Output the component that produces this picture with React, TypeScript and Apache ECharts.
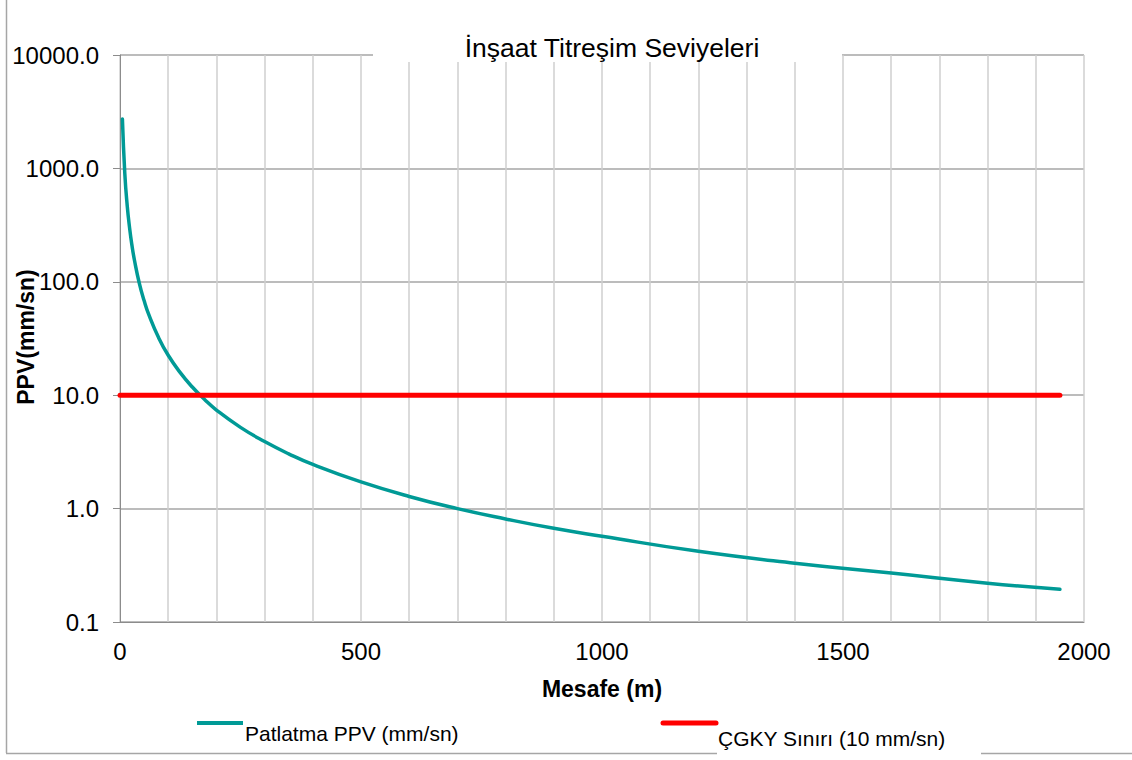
import React, { useEffect, useRef } from "react";
import * as echarts from "echarts";

const distances = [5, 10, 15, 20, 25, 30, 40, 50, 60, 80, 100, 125, 150, 175, 200, 250, 300, 350, 400, 500, 600, 700, 800, 900, 1000, 1200, 1400, 1600, 1800, 1950];
const ppvValues = [2720, 897, 468, 296, 207, 155, 97.5, 68.3, 51.0, 32.2, 22.5, 15.8, 11.8, 9.2, 7.4, 5.2, 3.9, 3.04, 2.45, 1.72, 1.28, 1.0, 0.81, 0.67, 0.57, 0.42, 0.33, 0.27, 0.22, 0.194];
const limitDistances = [0, 1950];
const limitValues = [10, 10];
const xLabelValues = [0, 500, 1000, 1500, 2000];

const titleText = "İnşaat Titreşim Seviyeleri";
const seriesNames = ["Patlatma PPV (mm/sn)", "ÇGKY Sınırı (10 mm/sn)"];
const xName = "Mesafe (m)";
const yName = "PPV(mm/sn)";

const FONT = "'Liberation Sans', Arial, sans-serif";
const TEAL = "#009a96";
const RED = "#ff0000";

export default function App() {
  const ref = useRef<HTMLDivElement>(null);
  useEffect(() => {
    if (!ref.current) return;
    const chart = echarts.init(ref.current, null, { renderer: "svg" });
    const ppvData = distances.map((d, i) => [d, ppvValues[i]]);
    const limitData = limitDistances.map((d, i) => [d, limitValues[i]]);
    chart.setOption({
      animation: false,
      backgroundColor: "#ffffff",
      textStyle: { fontFamily: FONT },
      title: {
        text: titleText,
        left: 607,
        top: 29,
        textAlign: "center",
        z: 20,
        textStyle: { fontFamily: FONT, fontSize: 26.5, fontWeight: "normal", color: "#000" },
      },
      grid: { left: 120, right: 48, top: 55, bottom: 138, containLabel: false, outerBoundsMode: "none" },
      xAxis: {
        type: "value",
        min: 0,
        max: 2000,
        interval: 100,
        name: xName,
        nameLocation: "middle",
        nameGap: 55,
        nameMoveOverlap: false,
        nameTextStyle: { fontFamily: FONT, fontSize: 23, fontWeight: "bold", color: "#000" },
        axisLine: { show: true, lineStyle: { color: "#8c8c8c", width: 1 } },
        axisTick: { show: false },
        axisLabel: {
          margin: 17,
          fontFamily: FONT,
          fontSize: 24,
          color: "#000",
          formatter: (v: number) => (xLabelValues.indexOf(v) >= 0 ? String(v) : ""),
        },
        splitLine: { show: true, lineStyle: { color: "#cfcfcf", width: 1.5 } },
      },
      yAxis: {
        type: "log",
        logBase: 10,
        min: 0.1,
        max: 10000,
        axisLine: { show: true, onZero: false, lineStyle: { color: "#8c8c8c", width: 1 } },
        axisTick: { show: true, inside: false, length: 7, lineStyle: { color: "#8c8c8c" } },
        axisLabel: {
          margin: 21,
          fontFamily: FONT,
          fontSize: 24,
          color: "#000",
          formatter: (v: number) => Number(v).toFixed(1),
        },
        splitLine: { show: true, lineStyle: { color: "#a6a6a6", width: 1.5 } },
      },
      series: [
        {
          name: seriesNames[0],
          type: "line",
          data: ppvData,
          smooth: true,
          showSymbol: false,
          z: 3,
          lineStyle: { color: TEAL, width: 3.5, cap: "round" },
          itemStyle: { color: TEAL },
        },
        {
          name: seriesNames[1],
          type: "line",
          data: limitData,
          showSymbol: false,
          z: 4,
          lineStyle: { color: RED, width: 5, cap: "round" },
          itemStyle: { color: RED },
        },
      ],
      graphic: [
        { type: "line", z: 1, shape: { x1: 6.5, y1: 0, x2: 6.5, y2: 753 }, style: { stroke: "#a6a6a6", lineWidth: 1.5 } },
        { type: "line", z: 1, shape: { x1: 6, y1: 753.5, x2: 1132, y2: 753.5 }, style: { stroke: "#a6a6a6", lineWidth: 1.5 } },
        { type: "rect", z: 10, shape: { x: 373, y: 20, width: 469, height: 42 }, style: { fill: "#ffffff" } },
        { type: "rect", z: 10, shape: { x: 717, y: 726, width: 264, height: 32 }, style: { fill: "#ffffff" } },
        {
          type: "text", z: 11, x: 26, y: 337, rotation: Math.PI / 2,
          style: { text: yName, fontFamily: FONT, fontSize: 23, fontWeight: "bold", fill: "#000", verticalAlign: "middle", align: "center" },
        },
        { type: "line", z: 11, shape: { x1: 197, y1: 723, x2: 243, y2: 723 }, style: { stroke: TEAL, lineWidth: 4 } },
        {
          type: "text", z: 11, x: 245, y: 733,
          style: { text: seriesNames[0], fontFamily: FONT, fontSize: 21, fill: "#000", verticalAlign: "middle", align: "left" },
        },
        { type: "line", z: 11, shape: { x1: 663, y1: 723, x2: 716, y2: 723 }, style: { stroke: RED, lineWidth: 5, lineCap: "round" } },
        {
          type: "text", z: 11, x: 718, y: 738,
          style: { text: seriesNames[1], fontFamily: FONT, fontSize: 21, fill: "#000", verticalAlign: "middle", align: "left" },
        },
      ],
    });
    return () => chart.dispose();
  }, []);
  return (
    <div
      ref={ref}
      style={{ position: "absolute", left: 0, top: 0, width: 1132, height: 760, background: "#fff" }}
    />
  );
}
